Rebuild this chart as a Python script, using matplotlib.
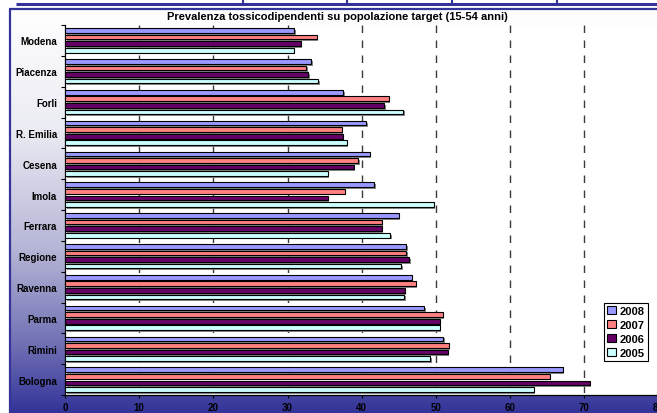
import numpy as np
import matplotlib
matplotlib.use('Agg')
import matplotlib.pyplot as plt
from matplotlib import patheffects
from matplotlib.colors import LinearSegmentedColormap
from matplotlib.patches import Rectangle

plt.rcParams['font.family'] = ['Liberation Sans', 'DejaVu Sans']
plt.rcParams['font.weight'] = 'bold'

titolo = 'Prevalenza tossicodipendenti su popolazione target (15-54 anni)'
comuni = ['Modena', 'Piacenza', 'Forli', 'R. Emilia', 'Cesena', 'Imola',
          'Ferrara', 'Regione', 'Ravenna', 'Parma', 'Rimini', 'Bologna']
anni = ['2008', '2007', '2006', '2005']
v2008 = [30.9, 33.2, 37.5, 40.6, 41.1, 41.7, 45.0, 46.0, 46.7, 48.4, 51.0, 67.1]
v2007 = [33.9, 32.5, 43.6, 37.3, 39.5, 37.7, 42.7, 46.0, 47.3, 50.9, 51.7, 65.3]
v2006 = [31.8, 32.8, 43.0, 37.4, 38.9, 35.4, 42.7, 46.4, 45.8, 50.5, 51.6, 70.7]
v2005 = [30.8, 34.1, 45.6, 38.0, 35.4, 49.7, 43.8, 45.3, 45.7, 50.5, 49.2, 63.2]
serie = [v2008, v2007, v2006, v2005]
colori = ['#9999ff', '#ff8080', '#660066', '#ccffff']
blu = '#333399'

W, H = 657, 414
fig = plt.figure(figsize=(W / 100, H / 100), dpi=100)
fig.patch.set_facecolor('white')

# sfondo sfumato dell'area grafico
bg = fig.add_axes([0, 0, 1, 1], zorder=-10)
bg.axis('off')
sfum = LinearSegmentedColormap.from_list('sfum', [
    (0.0, '#ffffff'), (0.3, '#ebebf3'), (0.6, '#b4b4d6'),
    (0.82, '#7474b6'), (1.0, '#333399')])
grad = np.linspace(0, 1, 256).reshape(-1, 1)
bg.imshow(grad, extent=(9, W, H, 9), aspect='auto', cmap=sfum)
bg.plot([10, 10], [H, 10], color=blu, lw=1.6, solid_capstyle='butt')
bg.plot([9.3, W], [10, 10], color=blu, lw=1.6, solid_capstyle='butt')
bg.plot([16, W], [4.7, 4.7], color=blu, lw=2.2, solid_capstyle='butt')
for xv in [243, 347, 452, 557]:
    bg.plot([xv, xv], [0, 4.7], color=blu, lw=1.5, solid_capstyle='butt')
bg.set_xlim(0, W)
bg.set_ylim(H, 0)

ax = fig.add_axes([65 / W, 18 / H, 593.6 / W, 370 / H])
ax.set_facecolor('white')

y = np.arange(len(comuni))
scarti = [-0.32, -0.107, 0.107, 0.32]
ombra = [patheffects.SimplePatchShadow(offset=(1.1, -1.3), shadow_rgbFace='#7a7a7a', alpha=0.9),
         patheffects.Normal()]
for vals, col, off in zip(serie, colori, scarti):
    ax.barh(y + off, vals, height=0.15, color=col, edgecolor='black',
            linewidth=0.8, zorder=3, path_effects=ombra)

for xv in range(10, 80, 10):
    ax.axvline(xv, ymin=1, ymax=0, color='#3a3a3a', lw=1.0, dashes=(5.4, 5.4), zorder=1)

ax.set_xlim(0, 80)
ax.set_ylim(len(comuni) - 0.5, -0.5)
ax.set_xticks(range(0, 81, 10))
ax.tick_params(axis='x', length=2, pad=3, labelsize=7)
ax.set_yticks(np.arange(len(comuni) + 1) - 0.5)
ax.set_yticklabels([])
ax.set_yticks(y, minor=True)
ax.set_yticklabels(comuni, minor=True, fontsize=7, fontweight='bold')
ax.tick_params(axis='y', which='major', length=3, direction='out')
ax.tick_params(axis='y', which='minor', length=0, pad=5.8)
for s in ['top', 'right']:
    ax.spines[s].set_visible(False)
ax.spines['left'].set_linewidth(0.9)
ax.spines['bottom'].set_linewidth(0.9)

fig.text(337 / W, 1 - 17 / H, titolo, ha='center', va='center',
         fontsize=8, fontweight='bold')

maniglie = [Rectangle((0, 0), 1, 1, facecolor=c, edgecolor='black', lw=0.8) for c in colori]
leg = fig.legend(maniglie, anni, loc='center', bbox_to_anchor=(626 / W, 1 - 333 / H),
                 fontsize=8, frameon=True, fancybox=False, framealpha=1,
                 edgecolor='black', handlelength=0.8, handleheight=0.8,
                 handletextpad=0.3, labelspacing=0.35, borderpad=0.3, borderaxespad=0)
leg.get_frame().set_linewidth(0.8)

fig.savefig('out.png', dpi=100)
